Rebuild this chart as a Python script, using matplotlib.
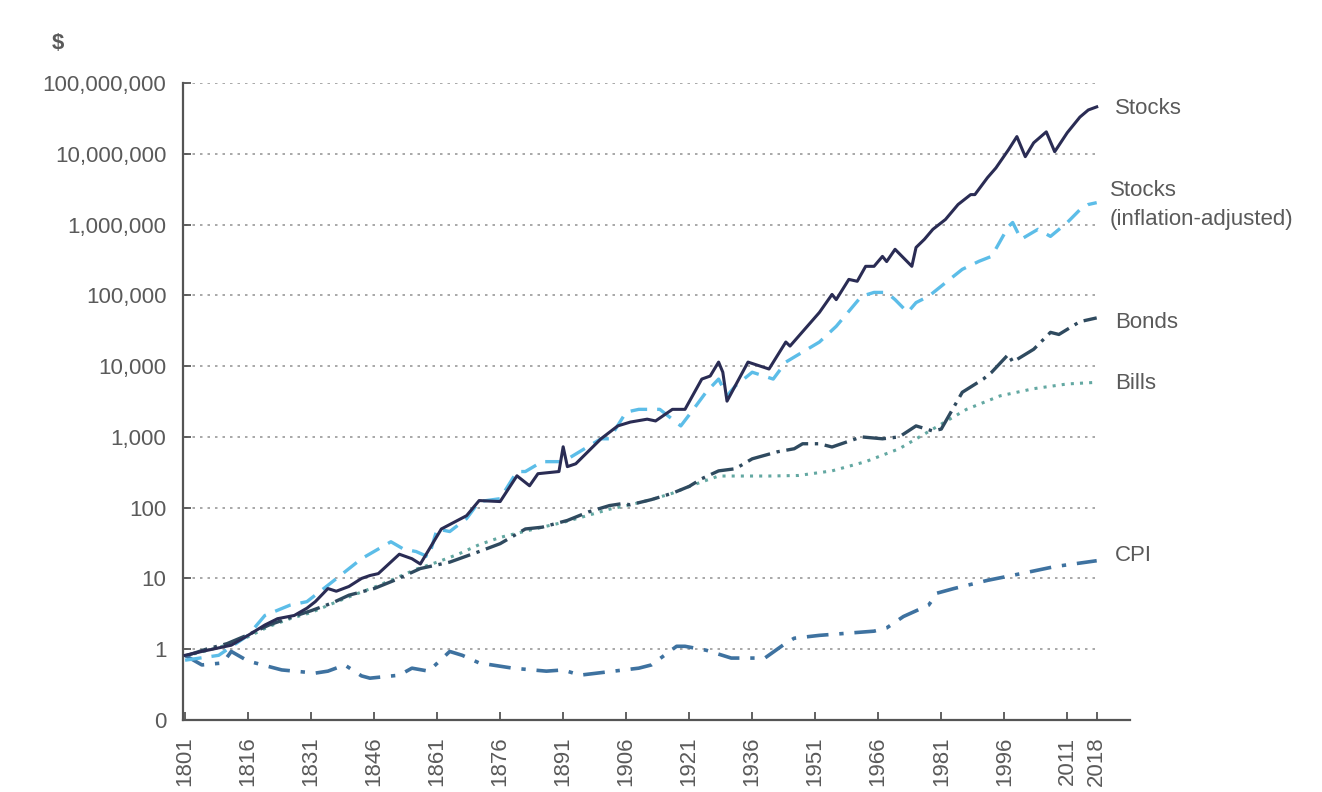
import numpy as np
import matplotlib
matplotlib.use("Agg")
import matplotlib.pyplot as plt
from matplotlib.ticker import FixedLocator, FixedFormatter

plt.rcParams['font.family'] = ['Liberation Sans', 'DejaVu Sans']

# 名义股票
stocks_years = [1801, 1805, 1812, 1816, 1820, 1823, 1827, 1830, 1832, 1835,
                1837, 1840, 1843, 1845, 1847, 1852, 1855, 1857, 1862, 1868,
                1871, 1876, 1880, 1883, 1885, 1890, 1891, 1892, 1894, 1900,
                1904, 1907, 1911, 1913, 1917, 1920, 1924, 1926, 1928, 1929,
                1930, 1935, 1940, 1944, 1945, 1952, 1955, 1956, 1959, 1961,
                1963, 1965, 1967, 1968, 1970, 1974, 1975, 1977, 1979, 1982,
                1985, 1988, 1989, 1992, 1994, 1997, 1999, 2001, 2003, 2006,
                2008, 2011, 2014, 2016, 2018]
stocks_values = [0.82, 0.93, 1.14, 1.57, 2.2, 2.7, 3.0, 3.8, 4.7, 7.2,
                 6.6, 7.7, 10, 11, 11.7, 22, 19, 16, 50, 77,
                 126, 122, 282, 204, 302, 324, 725, 380, 417, 940,
                 1430, 1620, 1780, 1680, 2450, 2450, 6560, 7240, 11400, 8200,
                 3200, 11400, 9100, 21900, 19200, 57400, 103000, 87000, 168000, 158000,
                 257000, 257000, 355000, 300000, 447000, 257000, 475000, 620000, 856000, 1.18e6,
                 1.92e6, 2.65e6, 2.65e6, 4.6e6, 6.3e6, 11.4e6, 17.5e6, 9.1e6, 14.3e6, 20.4e6,
                 10.7e6, 19.9e6, 33e6, 41.6e6, 46e6]

# 通胀调整后股票
real_years = [1801, 1809, 1816, 1820, 1826, 1830, 1835, 1843, 1850, 1853,
              1856, 1859, 1861, 1864, 1868, 1871, 1876, 1880, 1882, 1886,
              1891, 1900, 1902, 1906, 1909, 1914, 1919, 1922, 1925, 1928,
              1930, 1932, 1936, 1941, 1944, 1952, 1956, 1960, 1962, 1965,
              1968, 1970, 1973, 1975, 1978, 1983, 1986, 1990, 1993, 1997,
              1998, 2000, 2004, 2007, 2011, 2014, 2016, 2018]
real_values = [0.7, 0.82, 1.57, 3.0, 4.2, 4.7, 8, 19, 33, 26,
               24, 20, 50, 46, 70, 122, 134, 324, 324, 447,
               447, 940, 940, 2240, 2450, 2450, 1430, 2450, 4270, 6560,
               3800, 5250, 8200, 6560, 11400, 21900, 36500, 70000, 97000, 110000,
               110000, 87000, 57400, 79000, 97000, 168000, 233000, 303000, 356000, 940000,
               1.07e6, 620000, 856000, 680000, 1.07e6, 1.62e6, 1.92e6, 2.04e6]

# 债券
bonds_years = [1801, 1806, 1811, 1816, 1821, 1826, 1831, 1836, 1840, 1846,
               1851, 1857, 1864, 1871, 1876, 1882, 1886, 1892, 1897, 1902,
               1905, 1907, 1912, 1917, 1921, 1924, 1928, 1932, 1936, 1942,
               1946, 1948, 1952, 1955, 1962, 1967, 1971, 1975, 1979, 1981,
               1986, 1991, 1993, 1997, 1998, 2003, 2007, 2009, 2014, 2018]
bonds_values = [0.8, 1.0, 1.2, 1.6, 2.2, 2.8, 3.5, 4.5, 5.8, 7.2,
                9.5, 13.8, 17, 24, 31, 50, 53, 66, 87, 107,
                114, 110, 130, 160, 200, 257, 331, 355, 490, 616,
                680, 800, 800, 720, 1000, 940, 1000, 1430, 1210, 1290,
                4270, 6560, 8200, 14700, 11400, 17300, 30000, 28000, 42500, 48000]

# 短期国库券
bills_years = [1801, 1806, 1811, 1816, 1821, 1826, 1831, 1836, 1841, 1846,
               1851, 1856, 1861, 1866, 1871, 1876, 1881, 1886, 1891, 1897,
               1902, 1907, 1912, 1917, 1922, 1928, 1932, 1940, 1947, 1955,
               1963, 1971, 1979, 1987, 1995, 2003, 2011, 2018]
bills_values = [0.8, 0.95, 1.15, 1.5, 2.1, 2.7, 3.3, 4.4, 5.8, 7.5,
                10, 13.5, 17, 22, 30, 38, 45, 53, 62, 78,
                95, 110, 130, 160, 210, 280, 280, 280, 285, 331,
                447, 680, 1290, 2450, 3800, 4800, 5600, 5900]

# CPI
cpi_years = [1801, 1805, 1810, 1812, 1816, 1824, 1832, 1835, 1839, 1843,
             1845, 1852, 1855, 1859, 1864, 1867, 1871, 1879, 1887, 1891,
             1895, 1903, 1909, 1912, 1918, 1920, 1925, 1931, 1939, 1944,
             1946, 1952, 1965, 1968, 1972, 1978, 1980, 1984, 1992, 2000,
             2008, 2018]
cpi_values = [0.82, 0.6, 0.64, 0.93, 0.68, 0.51, 0.46, 0.49, 0.6, 0.42,
              0.39, 0.43, 0.54, 0.49, 0.93, 0.82, 0.64, 0.54, 0.49, 0.51,
              0.43, 0.49, 0.54, 0.6, 1.1, 1.1, 0.97, 0.75, 0.75, 1.22,
              1.43, 1.57, 1.8, 2.0, 2.9, 4.2, 6.2, 7.2, 9.4, 11.7,
              14.7, 17.8]

x_ticks = [1801, 1816, 1831, 1846, 1861, 1876, 1891, 1906, 1921, 1936,
           1951, 1966, 1981, 1996, 2011, 2018]
y_ticks = [0.1, 1, 10, 100, 1e3, 1e4, 1e5, 1e6, 1e7, 1e8]
y_labels = ['0', '1', '10', '100', '1,000', '10,000', '100,000',
            '1,000,000', '10,000,000', '100,000,000']

TEXT = '#5a5a5a'
AXIS = '#555555'

fig = plt.figure(figsize=(13.22, 7.92), dpi=100)
ax = fig.add_axes([0.1384, 0.0909, 0.855 - 0.1384, 0.8952 - 0.0909])

# 网格线只画到 2018
ax.hlines(y_ticks[1:], 1801, 2018, colors='#9a9a9a', linestyles=(0, (1.5, 3)),
          linewidth=1.2, zorder=1)

ax.plot(bills_years, bills_values, color='#63a8a2', lw=2.2,
        linestyle=(0, (1, 2)), zorder=3)
ax.plot(bonds_years, bonds_values, color='#2f4a5f', lw=2.4,
        linestyle=(0, (7, 2, 1, 2)), zorder=4)
ax.plot(cpi_years, cpi_values, color='#3e72a0', lw=2.6,
        linestyle=(0, (6, 3, 1.2, 3)), zorder=4)
ax.plot(real_years, real_values, color='#5cbde8', lw=2.4,
        linestyle=(0, (5, 3)), zorder=5)
ax.plot(stocks_years, stocks_values, color='#2a2c54', lw=2.2, zorder=6)

ax.set_yscale('log')
ax.set_ylim(0.1, 1e8)
ax.set_xlim(1800.5, 2026)

ax.yaxis.set_major_locator(FixedLocator(y_ticks))
ax.yaxis.set_major_formatter(FixedFormatter(y_labels))
ax.yaxis.set_minor_locator(FixedLocator([]))
ax.set_xticks(x_ticks)
ax.set_xticklabels([str(y) for y in x_ticks], rotation=90)

ax.tick_params(axis='both', direction='in', length=6, width=1.3,
               colors=AXIS, labelcolor=TEXT, labelsize=16, pad=12)

for side in ['top', 'right']:
    ax.spines[side].set_visible(False)
for side in ['left', 'bottom']:
    ax.spines[side].set_color(AXIS)
    ax.spines[side].set_linewidth(1.6)

# 右侧系列标注
labels = [('Stocks', 2022.3, 4.3e7),
          ('Stocks\n(inflation-adjusted)', 2021.1, 1.9e6),
          ('Bonds', 2022.3, 4.2e4),
          ('Bills', 2022.3, 5.6e3),
          ('CPI', 2022.3, 21)]
for txt, xx, yy in labels:
    ax.text(xx, yy, txt, ha='left', va='center', fontsize=16, color=TEXT,
            linespacing=1.5, clip_on=False)

fig.text(0.044, 0.945, '$', fontsize=16, color=TEXT, fontweight='bold',
         ha='center', va='center')

fig.savefig('out.png', dpi=100, facecolor='white')
